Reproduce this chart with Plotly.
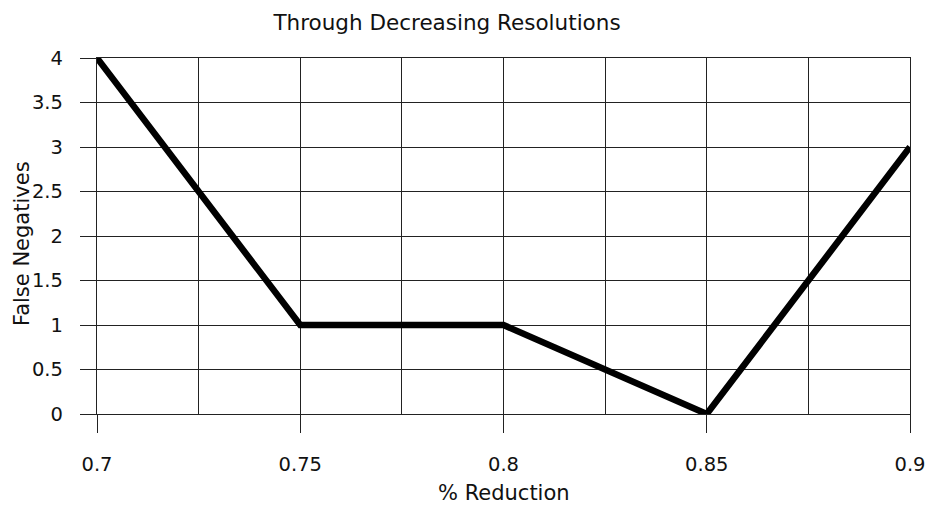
import plotly.graph_objects as go

# Fraction of resolution removed vs. false negatives
reduction = [0.7, 0.75, 0.8, 0.85, 0.9]
false_negatives = [4, 1, 1, 0, 3]
x_ticks = [0.7, 0.75, 0.8, 0.85, 0.9]
x_tick_text = ["0.7", "0.75", "0.8", "0.85", "0.9"]
y_ticks = [0, 0.5, 1, 1.5, 2, 2.5, 3, 3.5, 4]
y_tick_text = ["0", "0.5", "1", "1.5", "2", "2.5", "3", "3.5", "4"]

font_family = "DejaVu Sans, Liberation Sans, Arial, sans-serif"
text_color = "#111111"
grid_color = "#222222"

W, H = 930, 508
ML, MR, MT, MB = 97, 20, 58, 94

fig = go.Figure()
fig.add_trace(go.Scatter(
    x=reduction, y=false_negatives, mode="lines",
    line=dict(color="#000000", width=6.5),
    showlegend=False,
))

# axis titles placed in paper coordinates relative to the plot area
plot_w = W - ML - MR
plot_h = H - MT - MB
fig.add_annotation(
    text="% Reduction", xref="paper", yref="paper",
    x=0.5, y=-(493 - (H - MB)) / plot_h, xanchor="center", yanchor="middle",
    showarrow=False, font=dict(size=21, family=font_family, color=text_color),
)
fig.add_annotation(
    text="False Negatives", xref="paper", yref="paper",
    x=-(ML - 22) / plot_w, y=1 - (244 - MT) / plot_h, xanchor="center", yanchor="middle",
    textangle=-90, showarrow=False,
    font=dict(size=21, family=font_family, color=text_color),
)

fig.update_layout(
    width=W, height=H,
    margin=dict(l=ML, r=MR, t=MT, b=MB, autoexpand=False),
    paper_bgcolor="white", plot_bgcolor="white",
    font=dict(family=font_family, color=text_color),
    title=dict(
        text="Through Decreasing Resolutions",
        x=447 / W, xanchor="center", y=1 - 22 / H, yanchor="middle",
        font=dict(size=21.5, family=font_family, color=text_color),
    ),
    xaxis=dict(
        range=[0.7, 0.9], tickvals=x_ticks, ticktext=x_tick_text,
        automargin=False,
        showgrid=True, gridcolor=grid_color, gridwidth=1.4,
        minor=dict(dtick=0.025, tick0=0.7, showgrid=True, gridcolor=grid_color, gridwidth=1.4),
        ticks="outside", ticklen=18, tickwidth=1.4, tickcolor=grid_color,
        ticklabelstandoff=14,
        showline=True, linecolor=grid_color, linewidth=1.4, mirror=True,
        zeroline=False,
        tickfont=dict(size=19.5, family=font_family, color=text_color),
    ),
    yaxis=dict(
        range=[0, 4], tickvals=y_ticks, ticktext=y_tick_text,
        automargin=False,
        showgrid=True, gridcolor=grid_color, gridwidth=1.4,
        ticks="outside", ticklen=16, tickwidth=1.4, tickcolor=grid_color,
        ticklabelstandoff=13,
        showline=True, linecolor=grid_color, linewidth=1.4, mirror=True,
        zeroline=False,
        tickfont=dict(size=19.5, family=font_family, color=text_color),
    ),
)

fig.write_html("out.html")
